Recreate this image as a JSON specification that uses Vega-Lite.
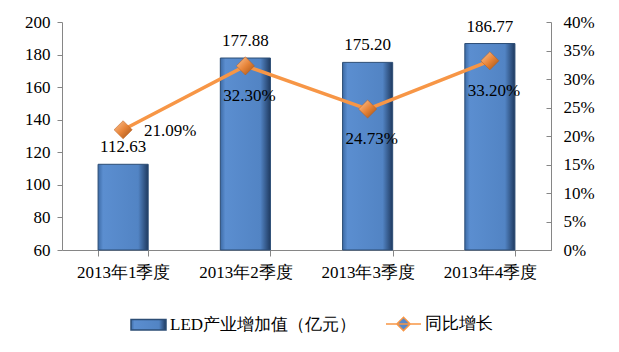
{
  "$schema": "https://vega.github.io/schema/vega-lite/v6.json",
  "autosize": "none",
  "width": 489,
  "height": 228,
  "padding": {"left": 62, "top": 22, "right": 68, "bottom": 102},
  "background": "white",
  "data": {"values": [
    {"q": "2013年1季度", "v": 112.63, "g": 0.2109},
    {"q": "2013年2季度", "v": 177.88, "g": 0.3230},
    {"q": "2013年3季度", "v": 175.20, "g": 0.2473},
    {"q": "2013年4季度", "v": 186.77, "g": 0.3320}
  ]},
  "config": {
    "view": {"stroke": null},
    "font": "Liberation Serif",
    "axis": {"grid": false, "domainColor": "#868686", "tickColor": "#868686", "labelColor": "#000000", "labelFont": "Liberation Serif", "labelFontSize": 17, "title": null, "labelOverlap": false, "labelFlush": false, "labelBound": false},
    "legend": {"labelFont": "Liberation Serif", "labelFontSize": 17, "labelColor": "#000000", "labelLimit": 400}
  },
  "encoding": {
    "x": {"field": "q", "type": "nominal", "sort": null,
      "scale": {"paddingInner": 0.59, "paddingOuter": 0.295},
      "axis": {"labelAngle": 0, "tickBand": "extent", "tickSize": 6, "labelPadding": 8}}
  },
  "layer": [
    {
      "encoding": {
        "y": {"field": "v", "type": "quantitative",
          "scale": {"domain": [60, 200], "zero": false, "nice": false},
          "axis": {"values": [60, 80, 100, 120, 140, 160, 180, 200], "tickSize": 5, "labelPadding": 7, "labelOverlap": false}}
      },
      "layer": [
        {
          "mark": {"type": "bar", "strokeWidth": 1,
            "fill": {"gradient": "linear", "x1": 0, "y1": 0, "x2": 1, "y2": 0,
              "stops": [
                {"offset": 0, "color": "#3D6BA6"},
                {"offset": 0.1, "color": "#5B8ED0"},
                {"offset": 0.8, "color": "#5284C4"},
                {"offset": 1, "color": "#1F3A60"}
              ]}},
          "encoding": {
            "y2": {"datum": 60},
            "stroke": {"datum": "LED产业增加值（亿元）", "type": "nominal",
              "scale": {"domain": ["LED产业增加值（亿元）", "同比增长"], "range": ["#2C4D75", "#F79646"]},
              "legend": {"orient": "none", "legendX": 68, "legendY": 283, "direction": "horizontal", "title": null, "columnPadding": 26, "labelOffset": 3, "symbolSize": 1225,
                "encode": {"symbols": {
                  "fill": {"value": {"expr": "datum.value === '同比增长' ? '#E07B2A' : '#4F81BD'"}},
                  "stroke": {"value": {"expr": "datum.value === '同比增长' ? '#F79646' : '#2C4D75'"}},
                  "strokeWidth": {"value": {"expr": "datum.value === '同比增长' ? 3 : 1"}},
                  "opacity": {"value": 1}
                }}}}
          }
        },
        {
          "mark": {"type": "text", "dy": -17, "fontSize": 17, "font": "Liberation Serif", "color": "#000000"},
          "encoding": {
            "text": {"field": "v", "type": "quantitative", "format": ".2f"}
          }
        }
      ]
    },
    {
      "encoding": {
        "y": {"field": "g", "type": "quantitative",
          "scale": {"domain": [0, 0.4], "nice": false},
          "axis": {"orient": "right", "values": [0, 0.05, 0.1, 0.15, 0.2, 0.25, 0.3, 0.35, 0.4], "format": ".0%", "tickSize": -5, "labelPadding": 17, "labelOverlap": false}}
      },
      "layer": [
        {
          "mark": {"type": "line", "strokeWidth": 3.5},
          "encoding": {
            "stroke": {"datum": "同比增长", "type": "nominal"}
          }
        },
        {
          "mark": {"type": "point", "shape": "diamond", "size": 330, "filled": true, "opacity": 1, "stroke": "#B85A18", "strokeWidth": 0.5,
            "fill": {"gradient": "linear", "x1": 0, "y1": 0, "x2": 1, "y2": 1,
              "stops": [
                {"offset": 0, "color": "#FCC79A"},
                {"offset": 0.5, "color": "#E8853A"},
                {"offset": 1, "color": "#9E4F12"}
              ]}},
          "encoding": {}
        },
        {
          "mark": {"type": "point", "opacity": 0},
          "encoding": {
            "shape": {"datum": "同比增长", "type": "nominal",
              "scale": {"domain": ["LED产业增加值（亿元）", "同比增长"], "range": ["M -1 -0.3 L 1 -0.3 L 1 0.3 L -1 0.3 Z", "M -1 0 L 1 0 M 0 -0.38 L 0.38 0 L 0 0.38 L -0.38 0 Z"]},
              "legend": {"orient": "none", "legendX": 68, "legendY": 283, "direction": "horizontal", "title": null, "columnPadding": 26, "labelOffset": 3, "symbolSize": 1225}}
          }
        },
        {
          "transform": [{"filter": "datum.q === '2013年1季度'"}],
          "mark": {"type": "text", "dx": 47, "dy": 1, "fontSize": 17, "font": "Liberation Serif", "color": "#000000"},
          "encoding": {
            "text": {"field": "g", "type": "quantitative", "format": ".2%"}
          }
        },
        {
          "transform": [{"filter": "datum.q !== '2013年1季度'"}],
          "mark": {"type": "text", "dx": 4, "dy": 30, "fontSize": 17, "font": "Liberation Serif", "color": "#000000"},
          "encoding": {
            "text": {"field": "g", "type": "quantitative", "format": ".2%"}
          }
        }
      ]
    }
  ],
  "resolve": {"scale": {"y": "independent"}}
}
